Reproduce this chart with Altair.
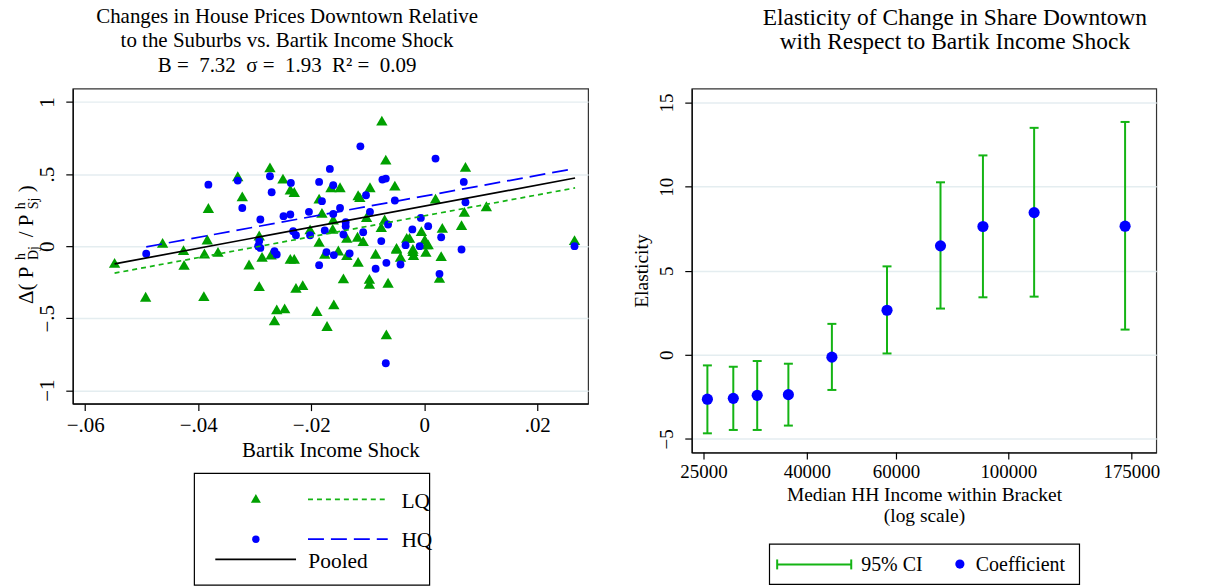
import altair as alt
import pandas as pd

SERIF = "Liberation Serif"
GREEN_PT = "#00a000"
GREEN_LN = "#14b414"
BLUE = "#0000ff"

# ---------------- left panel data ----------------
lq_x = [-0.0548, -0.0493, -0.0463, -0.0426, -0.0425, -0.0390, -0.0389, -0.0384, -0.0382, -0.0365,
        -0.0330, -0.0322, -0.0310, -0.0292, -0.0292, -0.0287, -0.0265, -0.0261, -0.0247, -0.0273,
        -0.0271, -0.0250, -0.0237, -0.0230, -0.0237, -0.0230, -0.0227, -0.0215, -0.0202, -0.0186,
        -0.0186, -0.0190, -0.0172, -0.0160, -0.0165, -0.0149, -0.0161, -0.0162, -0.0176, -0.0152,
        -0.0137, -0.0137, -0.0143, -0.0117, -0.0114, -0.0096, -0.0102, -0.0118, -0.0108, -0.0117,
        -0.0097, -0.0097, -0.0086, -0.0075, -0.0068, -0.0052, -0.0070, -0.0076, -0.0064, -0.0067,
        -0.0049, -0.0042, -0.0031, -0.0026, -0.0020, -0.0019, -0.0005, 0.0001, 0.0003, 0.0004,
        0.0007, 0.0020, 0.0032, 0.0030, 0.0027, 0.0066, 0.0071, 0.0073, 0.0110, 0.0266,
        -0.0181, -0.0020, -0.0049]
lq_y = [-0.116, -0.351, 0.023, -0.028, -0.130, -0.347, -0.051, 0.046, 0.265, -0.040,
        0.485, 0.346, -0.127, 0.074, -0.277, -0.074, -0.515, -0.439, -0.432, 0.547,
        -0.058, 0.469, 0.393, 0.376, -0.088, -0.088, -0.289, -0.270, 0.116, 0.330,
        0.030, -0.450, -0.554, -0.404, 0.409, 0.409, 0.185, 0.120, -0.053, -0.030,
        0.058, -0.062, -0.224, 0.353, 0.340, 0.409, 0.201, 0.065, 0.035, -0.109,
        -0.227, -0.261, -0.053, 0.871, 0.601, 0.420, 0.185, 0.132, -0.254, -0.612,
        -0.012, -0.074, 0.058, 0.058, -0.035, -0.062, 0.104, 0.046, -0.040, 0.012,
        0.012, 0.330, 0.127, -0.069, -0.220, 0.146, 0.238, 0.550, 0.277, 0.042,
        0.231, -0.019, -0.019]

hq_x = [-0.0492, -0.0382, -0.0330, -0.0322, -0.0290, -0.0292, -0.0290, -0.0294, -0.0273, -0.0270,
        -0.0265, -0.0261, -0.0236, -0.0249, -0.0237, -0.0232, -0.0227, -0.0204, -0.0202, -0.0186,
        -0.0181, -0.0186, -0.0167, -0.0161, -0.0161, -0.0176, -0.0173, -0.0160, -0.0149, -0.0139,
        -0.0139, -0.0143, -0.0132, -0.0113, -0.0103, -0.0096, -0.0108, -0.0086, -0.0074, -0.0068,
        -0.0052, -0.0076, -0.0064, -0.0067, -0.0068, -0.0042, -0.0033, -0.0021, -0.0006, -0.0008,
        0.0007, 0.0020, 0.0030, 0.0027, 0.0066, 0.0073, 0.0070, 0.0266]
hq_y = [-0.053, 0.427, 0.455, 0.265, 0.185, 0.035, -0.012, 0.000, 0.485, 0.374,
        -0.035, -0.058, 0.439, 0.208, 0.220, 0.104, 0.076, 0.238, 0.076, 0.446,
        0.312, -0.132, 0.536, 0.423, 0.224, 0.109, -0.042, -0.062, 0.265, 0.166,
        0.139, 0.081, -0.051, 0.693, 0.353, 0.238, 0.097, -0.157, 0.462, 0.469,
        0.317, 0.035, 0.150, -0.116, -0.813, -0.127, 0.007, 0.116, 0.196, 0.000,
        0.139, 0.608, 0.062, -0.192, -0.023, 0.305, 0.446, 0.000]

pooled_fit_x = [-0.0548, 0.0267]
pooled_fit_y = [-0.123, 0.473]
lq_fit_x = [-0.0548, 0.0267]
lq_fit_y = [-0.187, 0.404]
hq_fit_x = [-0.0492, 0.0256]
hq_fit_y = [-0.005, 0.531]

left_x_ticks = [-0.06, -0.04, -0.02, 0, 0.02]
left_y_ticks = [-1, -0.5, 0, 0.5, 1]

# ---------------- right panel data ----------------
income = [25388, 28563, 31845, 36695, 44726, 57474, 73302, 88909, 112218, 169720]
coef = [-2.64, -2.59, -2.41, -2.37, -0.14, 2.65, 6.48, 7.63, 8.46, 7.65]
ci_hi = [-0.63, -0.71, -0.37, -0.53, 1.84, 5.26, 10.26, 11.86, 13.50, 13.85]
ci_lo = [-4.67, -4.47, -4.47, -4.21, -2.09, 0.08, 2.75, 3.42, 3.46, 1.50]
right_x_ticks = [25000, 40000, 60000, 100000, 175000]
right_x_labels = ["25000", "40000", "60000", "100000", "175000"]
right_x_domain = [23645, 195560]
right_y_ticks = [-5, 0, 5, 10, 15]

LEFT_W, LEFT_H = 517, 316
RIGHT_W, RIGHT_H = 466, 365

one = alt.Data(values=[{"a": 1}])
LBL = "replace(format(datum.value, ''), '0.', '.')"


def text(s, x, y, size=20, angle=0, align="center", baseline="alphabetic"):
    return alt.Chart(one).mark_text(
        text=s, font=SERIF, fontSize=size, angle=angle, align=align,
        baseline=baseline, color="black"
    ).encode(x=alt.value(x), y=alt.value(y))


def frame(x1, x2, y1, y2):
    return alt.Chart(one).mark_rect(opacity=0).encode(
        x=alt.value(x1), x2=alt.value(x2), y=alt.value(y1), y2=alt.value(y2))


def hline(x1, x2, y, color, width=1.6, dash=None):
    kw = dict(color=color, strokeWidth=width)
    if dash:
        kw["strokeDash"] = dash
    return alt.Chart(one).mark_rule(**kw).encode(
        x=alt.value(x1), x2=alt.value(x2), y=alt.value(y))


def vline(x, y1, y2, color, width=1.6):
    return alt.Chart(one).mark_rule(color=color, strokeWidth=width).encode(
        x=alt.value(x), y=alt.value(y1), y2=alt.value(y2))


def box(x1, x2, y1, y2):
    return alt.Chart(one).mark_rect(fill="white", stroke="black", strokeWidth=1.2).encode(
        x=alt.value(x1), x2=alt.value(x2), y=alt.value(y1), y2=alt.value(y2))


def sym(x, y, shape, color, size):
    return alt.Chart(one).mark_point(shape=shape, filled=True, color=color, size=size, opacity=1).encode(
        x=alt.value(x), y=alt.value(y))


# ---------------- left panel ----------------
lx = alt.Scale(domain=[-0.0622, 0.0290], nice=False, zero=False)
ly = alt.Scale(domain=[-1.093, 1.093], nice=False, zero=False)

lq_df = pd.DataFrame({"x": lq_x, "y": lq_y})
hq_df = pd.DataFrame({"x": hq_x, "y": hq_y})

x_axis_l = alt.Axis(values=left_x_ticks, labelExpr=LBL, grid=False, title="Bartik Income Shock",
                    titlePadding=4, labelFontSize=21, titleFontSize=21, labelOverlap=False)
y_axis_l = alt.Axis(values=left_y_ticks, labelExpr=LBL, grid=True, title=None, labelAngle=270,
                    labelAlign="center", labelBaseline="bottom", labelPadding=8,
                    labelFontSize=21, labelOverlap=False)

tri = alt.Chart(lq_df).mark_point(shape="triangle-up", filled=True, color=GREEN_PT, size=130, opacity=1).encode(
    x=alt.X("x:Q", scale=lx, axis=x_axis_l),
    y=alt.Y("y:Q", scale=ly, axis=y_axis_l),
)
dots = alt.Chart(hq_df).mark_circle(color=BLUE, size=62, opacity=1).encode(
    x=alt.X("x:Q", scale=lx), y=alt.Y("y:Q", scale=ly))


def fitline(xs, ys, color, dash=None):
    kw = dict(color=color, strokeWidth=1.7)
    if dash:
        kw["strokeDash"] = dash
    return alt.Chart(pd.DataFrame({"x": xs, "y": ys})).mark_line(**kw).encode(
        x=alt.X("x:Q", scale=lx), y=alt.Y("y:Q", scale=ly))


left_layers = [
    frame(-72, 543, -87, 499),
    tri, dots,
    fitline(lq_fit_x, lq_fit_y, GREEN_LN, [5, 4]),
    fitline(hq_fit_x, hq_fit_y, BLUE, [16, 7]),
    fitline(pooled_fit_x, pooled_fit_y, "black"),
    # title
    text("Changes in House Prices Downtown Relative", 215, -66, 21),
    text("to the Suburbs vs. Bartik Income Shock", 215, -42, 21),
    text("B =\u00a0 7.32\u00a0 \u03c3 =\u00a0 1.93\u00a0 R\u00b2 =\u00a0 0.09", 215, -17, 21),
    # y-axis title with sub/superscripts (rotated)
    text("\u0394( P", -46, 216, 21, angle=270, align="left", baseline="middle"),
    text("h", -52, 172, 14, angle=270, align="left", baseline="middle"),
    text("Dj", -39, 172, 14, angle=270, align="left", baseline="middle"),
    text("/ P", -46, 149, 21, angle=270, align="left", baseline="middle"),
    text("h", -52, 121, 14, angle=270, align="left", baseline="middle"),
    text("Sj", -39, 121, 14, angle=270, align="left", baseline="middle"),
    text(")", -46, 104, 21, angle=270, align="left", baseline="middle"),
    # legend
    box(122, 358, 386, 498),
    sym(183.7, 411, "triangle-up", GREEN_PT, 100),
    hline(236, 316, 412, GREEN_LN, 1.7, [5, 4]),
    text("LQ", 329.7, 420.5, 21.5, align="left"),
    sym(183.7, 452, "circle", BLUE, 55),
    hline(236, 316, 452, BLUE, 1.7, [16, 7]),
    text("HQ", 329.7, 460, 21.5, align="left"),
    hline(143, 224, 472.3, "black", 1.7),
    text("Pooled", 236.3, 480.5, 21.5, align="left"),
]
left = alt.layer(*left_layers).properties(width=LEFT_W, height=LEFT_H)

# ---------------- right panel (x plotted as log10 of income on a linear scale) ----------------
import math
rx = alt.Scale(domain=[math.log10(right_x_domain[0]), math.log10(right_x_domain[1])], nice=False, zero=False)
ry = alt.Scale(domain=[-5.81, 15.83], nice=False, zero=False)

rdf = pd.DataFrame({"income": income, "coef": coef, "lo": ci_lo, "hi": ci_hi})
tick_df = pd.DataFrame({"v": right_x_ticks, "lab": right_x_labels})

x_axis_r = alt.Axis(labels=False, ticks=False, grid=False,
                    title=["Median HH Income within Bracket", "(log scale)"], titlePadding=33)
y_axis_r = alt.Axis(values=right_y_ticks, grid=True, title="Elasticity", labelAngle=270,
                    labelAlign="center", labelBaseline="bottom", labelPadding=8, titlePadding=6,
                    labelOverlap=False)

base_r = alt.Chart(rdf).transform_calculate(lx10="log(datum.income) / LN10")

bars = base_r.mark_rule(color=GREEN_LN, strokeWidth=2).encode(
    x=alt.X("lx10:Q", scale=rx, axis=x_axis_r),
    y=alt.Y("lo:Q", scale=ry, axis=y_axis_r),
    y2="hi:Q",
)
cap_hi = base_r.mark_tick(orient="horizontal", size=9, thickness=2, color=GREEN_LN, opacity=1).encode(
    x=alt.X("lx10:Q", scale=rx), y=alt.Y("hi:Q", scale=ry))
cap_lo = base_r.mark_tick(orient="horizontal", size=9, thickness=2, color=GREEN_LN, opacity=1).encode(
    x=alt.X("lx10:Q", scale=rx), y=alt.Y("lo:Q", scale=ry))
coef_pts = base_r.mark_circle(color=BLUE, size=125, opacity=1).encode(
    x=alt.X("lx10:Q", scale=rx), y=alt.Y("coef:Q", scale=ry))

tick_base = alt.Chart(tick_df).transform_calculate(lv="log(datum.v) / LN10")
x_tick_marks = tick_base.mark_rule(color="black", strokeWidth=1.2).encode(
    x=alt.X("lv:Q", scale=rx), y=alt.value(RIGHT_H), y2=alt.value(RIGHT_H + 7))
x_tick_text = tick_base.mark_text(font=SERIF, fontSize=19, baseline="top", color="black").encode(
    x=alt.X("lv:Q", scale=rx), y=alt.value(RIGHT_H + 11), text=alt.Text("lab:N"))

right_layers = [
    frame(-76, 539, -87, 499),
    bars, cap_hi, cap_lo, coef_pts,
    x_tick_marks, x_tick_text,
    text("Elasticity of Change in Share Downtown", 264, -63.5, 23.5),
    text("with Respect to Bartik Income Shock", 264, -39.5, 23.5),
    box(78, 389, 457, 497.3),
    hline(85.7, 160, 477.3, GREEN_LN, 2),
    vline(85.7, 472.3, 482.3, GREEN_LN, 2),
    vline(160, 472.3, 482.3, GREEN_LN, 2),
    text("95% CI", 170, 484, 20, align="left"),
    sym(269, 477, "circle", BLUE, 85),
    text("Coefficient", 285, 484, 20, align="left"),
]
right = alt.layer(*right_layers).properties(width=RIGHT_W, height=RIGHT_H)

chart = alt.hconcat(left, right, spacing=0).properties(
    padding=0, background="white"
).configure_view(
    stroke="#333333", strokeWidth=1.2
).configure_axis(
    labelFont=SERIF, titleFont=SERIF, labelFontSize=19, titleFontSize=19.5,
    labelColor="black", titleColor="black", titleFontWeight="normal",
    tickColor="black", domainColor="black", tickSize=7, tickWidth=1.2, domainWidth=1.2,
    gridColor="#e4edf0", gridWidth=1.5, labelPadding=4,
)

chart.save("out.html", embed_options={"renderer": "svg", "actions": False})
